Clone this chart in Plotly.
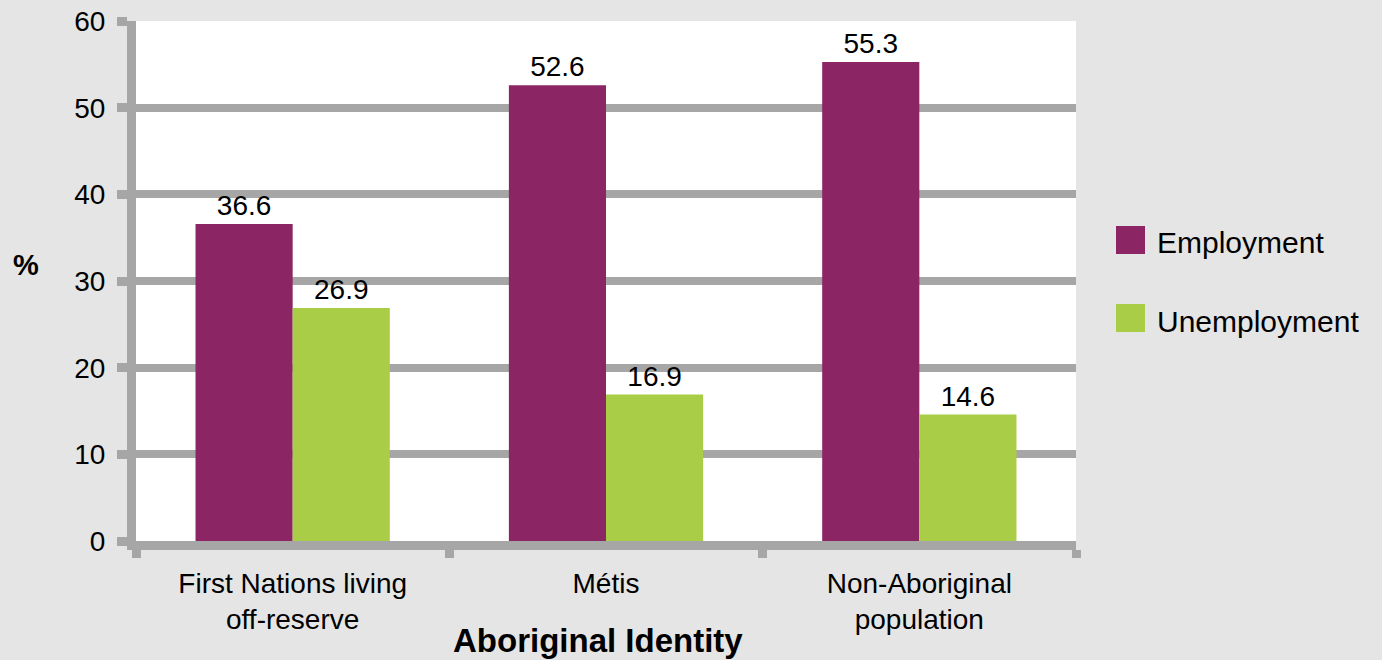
import plotly.graph_objects as go

categories = ["First Nations living<br>off-reserve", "Métis", "Non-Aboriginal<br>population"]
employment = [36.6, 52.6, 55.3]
unemployment = [26.9, 16.9, 14.6]
series_names = ["Employment", "Unemployment"]
colors = ["#8B2564", "#AACD48"]
y_ticks = [0, 10, 20, 30, 40, 50, 60]

FONT = "Liberation Sans, Arial, Helvetica, sans-serif"
GRID = "#A6A6A6"

W, H = 1382, 660
L, R, T, B = 136, 306, 21, 119
PW, PH = W - L - R, H - T - B


def px_x(x):
    return (x - L) / PW


def px_y(y):
    return (H - B - y) / PH


fig = go.Figure()
for name, vals, col in zip(series_names, [employment, unemployment], colors):
    fig.add_trace(go.Bar(
        x=categories, y=vals, name=name, marker=dict(color=col, line=dict(width=0)),
        text=[f"{v:.1f}" for v in vals], textposition="outside",
        textfont=dict(size=28, color="black", family=FONT),
        cliponaxis=False, showlegend=False,
    ))

fig.update_layout(
    width=W, height=H,
    paper_bgcolor="#E5E5E5", plot_bgcolor="white",
    margin=dict(l=L, r=R, t=T, b=B, autoexpand=False),
    barmode="group", bargap=0.38, bargroupgap=0,
    font=dict(family=FONT, color="black", size=28),
    showlegend=False,
)
fig.update_xaxes(
    automargin=False,
    showline=True, linewidth=9, linecolor=GRID,
    ticks="outside", tickson="boundaries", ticklen=8, tickwidth=9, tickcolor=GRID,
    tickfont=dict(size=28, color="black"), ticklabelstandoff=9,
    showgrid=False,
)
fig.update_yaxes(
    automargin=False,
    range=[0, 60.02], tickvals=y_ticks,
    showline=True, linewidth=9, linecolor=GRID,
    ticks="outside", ticklen=10, tickwidth=9, tickcolor=GRID,
    showgrid=True, gridcolor=GRID, gridwidth=8,
    tickfont=dict(size=28, color="black"), ticklabelstandoff=6,
    zeroline=False,
)

# axis titles
fig.add_annotation(text="<b>Aboriginal Identity</b>", xref="paper", yref="paper",
                   x=px_x(598), y=px_y(640), xanchor="center", yanchor="middle",
                   showarrow=False, font=dict(size=33, color="black"))
fig.add_annotation(text="<b>%</b>", xref="paper", yref="paper", x=px_x(26), y=px_y(265),
                   xanchor="center", yanchor="middle",
                   showarrow=False, font=dict(size=29, color="black"))

# legend (large square keys)
legend_rows = [(226, 254, 242), (304, 332, 322)]
for name, col, (y0, y1, yc) in zip(series_names, colors, legend_rows):
    fig.add_shape(type="rect", xref="paper", yref="paper",
                  x0=px_x(1116), x1=px_x(1145), y0=px_y(y1), y1=px_y(y0),
                  fillcolor=col, line=dict(width=0))
    fig.add_annotation(text=name, xref="paper", yref="paper", x=px_x(1155), y=px_y(yc),
                       xanchor="left", yanchor="middle", showarrow=False,
                       font=dict(size=30, color="black"))

fig.write_html("out.html", config={"displayModeBar": False},
               post_script="document.body.style.margin='0';")
